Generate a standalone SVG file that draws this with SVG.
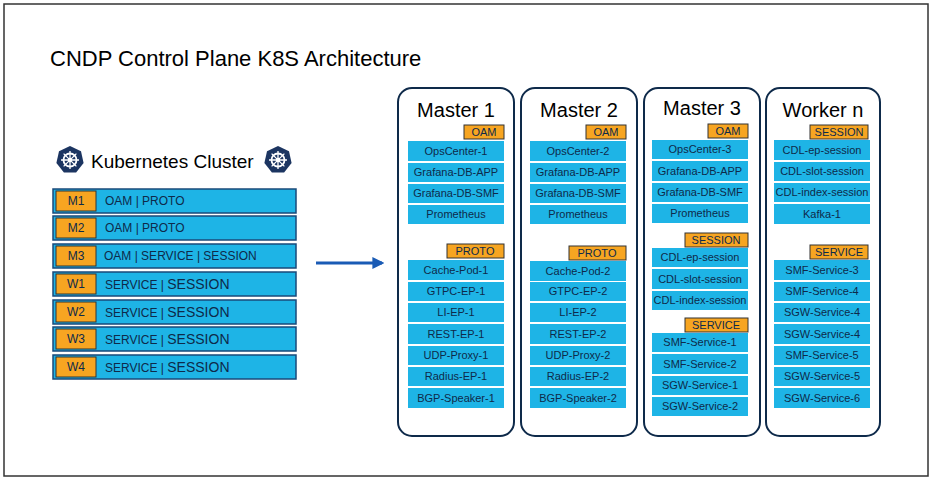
<svg xmlns="http://www.w3.org/2000/svg" width="934" height="480" viewBox="0 0 934 480">
<defs>
<style>
text{font-family:"Liberation Sans",Arial,sans-serif;fill:#0e2a4a}
.col{fill:#fff;stroke:#0e2a4a;stroke-width:2}
.it{fill:#1eb4e6}
.tag{fill:#f7a521;stroke:#333;stroke-width:1}
.t{font-size:11px;text-anchor:middle}
.row{fill:#1eb4e6;stroke:#1a4a7a;stroke-width:1.5}
.h{font-size:20px;text-anchor:middle;fill:#000}
</style>
<marker id="ar" viewBox="0 0 10 10" refX="8" refY="5" markerWidth="4" markerHeight="4" orient="auto"><path d="M0,0L10,5L0,10z" fill="#1a5bb5"/></marker>
<g id="helm"><polygon points="0,-14 11,-8.7 13.6,3.1 6.1,12.6 -6.1,12.6 -13.6,3.1 -11,-8.7" fill="#1c3561"/><circle r="6.5" fill="none" stroke="#fff" stroke-width="1.8"/><circle r="2.2" fill="#fff"/><path d="M0,-9V9M-9,0H9M-6.4,-6.4L6.4,6.4M-6.4,6.4L6.4,-6.4" stroke="#fff" stroke-width="1.3"/></g>
</defs>
<rect width="934" height="480" fill="#fff"/>
<rect x="4" y="4" width="924" height="472" fill="none" stroke="#333" stroke-width="1.5"/>
<text x="50" y="66" style="font-size:22px;fill:#000">CNDP Control Plane K8S Architecture</text>
<g id="cluster">
<use href="#helm" x="70" y="160"/><use href="#helm" x="278" y="160"/>
<text x="91" y="168" style="font-size:19px;fill:#000">Kubernetes Cluster</text>
<rect class="row" x="53" y="189" width="243" height="24"/><rect class="tag" x="56" y="191" width="40" height="20"/><text x="76" y="205" class="t" style="font-size:12px">M1</text><text x="105" y="205" style="font-size:12px">OAM | PROTO</text>
<rect class="row" x="53" y="216" width="243" height="24"/><rect class="tag" x="56" y="218" width="40" height="20"/><text x="76" y="232" class="t" style="font-size:12px">M2</text><text x="105" y="232" style="font-size:12px">OAM | PROTO</text>
<rect class="row" x="53" y="244" width="243" height="24"/><rect class="tag" x="56" y="246" width="40" height="20"/><text x="76" y="260" class="t" style="font-size:12px">M3</text><text x="104" y="260" style="font-size:12px">OAM | SERVICE | SESSION</text>
<rect class="row" x="53" y="272" width="243" height="24"/><rect class="tag" x="56" y="274" width="40" height="20"/><text x="76" y="288" class="t" style="font-size:12px">W1</text><text x="105" y="289" style="font-size:12px">SERVICE | <tspan style="font-size:14px">SESSION</tspan></text>
<rect class="row" x="53" y="300" width="243" height="24"/><rect class="tag" x="56" y="302" width="40" height="20"/><text x="76" y="316" class="t" style="font-size:12px">W2</text><text x="105" y="317" style="font-size:12px">SERVICE | <tspan style="font-size:14px">SESSION</tspan></text>
<rect class="row" x="53" y="327" width="243" height="24"/><rect class="tag" x="56" y="329" width="40" height="20"/><text x="76" y="343" class="t" style="font-size:12px">W3</text><text x="105" y="344" style="font-size:12px">SERVICE | <tspan style="font-size:14px">SESSION</tspan></text>
<rect class="row" x="53" y="355" width="243" height="24"/><rect class="tag" x="56" y="357" width="40" height="20"/><text x="76" y="371" class="t" style="font-size:12px">W4</text><text x="105" y="372" style="font-size:12px">SERVICE | <tspan style="font-size:14px">SESSION</tspan></text>
</g>
<g id="connectors"><line x1="316" y1="263" x2="382" y2="263" stroke="#1a5bb5" stroke-width="3" marker-end="url(#ar)"/></g>
<g id="master1">
<rect class="col" x="398" y="88" width="116" height="348" rx="14"/>
<text x="456" y="117" class="h">Master 1</text>
<rect class="tag" x="464" y="125" width="40" height="14"/><text x="484" y="136" class="t">OAM</text>
<rect class="it" x="408" y="141" width="96" height="20"/><text x="456" y="155" class="t">OpsCenter-1</text>
<rect class="it" x="408" y="163" width="96" height="19"/><text x="456" y="176" class="t">Grafana-DB-APP</text>
<rect class="it" x="408" y="184" width="96" height="19"/><text x="456" y="197" class="t">Grafana-DB-SMF</text>
<rect class="it" x="408" y="205" width="96" height="19"/><text x="456" y="218" class="t">Prometheus</text>
<rect class="tag" x="447" y="244" width="57" height="14"/><text x="475" y="255" class="t">PROTO</text>
<rect class="it" x="408" y="260" width="96" height="20"/><text x="456" y="274" class="t">Cache-Pod-1</text>
<rect class="it" x="408" y="282" width="96" height="19"/><text x="456" y="295" class="t">GTPC-EP-1</text>
<rect class="it" x="408" y="303" width="96" height="19"/><text x="456" y="316" class="t">LI-EP-1</text>
<rect class="it" x="408" y="324" width="96" height="20"/><text x="456" y="338" class="t">REST-EP-1</text>
<rect class="it" x="408" y="346" width="96" height="19"/><text x="456" y="359" class="t">UDP-Proxy-1</text>
<rect class="it" x="408" y="367" width="96" height="19"/><text x="456" y="380" class="t">Radius-EP-1</text>
<rect class="it" x="408" y="388" width="96" height="20"/><text x="456" y="402" class="t">BGP-Speaker-1</text>
</g>
<g id="master2">
<rect class="col" x="521" y="88" width="116" height="348" rx="14"/>
<text x="579" y="117" class="h">Master 2</text>
<rect class="tag" x="586" y="125" width="40" height="14"/><text x="606" y="136" class="t">OAM</text>
<rect class="it" x="530" y="141" width="96" height="20"/><text x="578" y="155" class="t">OpsCenter-2</text>
<rect class="it" x="530" y="163" width="96" height="19"/><text x="578" y="176" class="t">Grafana-DB-APP</text>
<rect class="it" x="530" y="184" width="96" height="19"/><text x="578" y="197" class="t">Grafana-DB-SMF</text>
<rect class="it" x="530" y="205" width="96" height="19"/><text x="578" y="218" class="t">Prometheus</text>
<rect class="tag" x="569" y="246" width="57" height="14"/><text x="597" y="257" class="t">PROTO</text>
<rect class="it" x="530" y="261" width="96" height="20"/><text x="578" y="275" class="t">Cache-Pod-2</text>
<rect class="it" x="530" y="282" width="96" height="19"/><text x="578" y="295" class="t">GTPC-EP-2</text>
<rect class="it" x="530" y="303" width="96" height="19"/><text x="578" y="316" class="t">LI-EP-2</text>
<rect class="it" x="530" y="324" width="96" height="20"/><text x="578" y="338" class="t">REST-EP-2</text>
<rect class="it" x="530" y="346" width="96" height="19"/><text x="578" y="359" class="t">UDP-Proxy-2</text>
<rect class="it" x="530" y="367" width="96" height="19"/><text x="578" y="380" class="t">Radius-EP-2</text>
<rect class="it" x="530" y="388" width="96" height="20"/><text x="578" y="402" class="t">BGP-Speaker-2</text>
</g>
<g id="master3">
<rect class="col" x="644" y="88" width="116" height="348" rx="14"/>
<text x="702" y="115" class="h">Master 3</text>
<rect class="tag" x="708" y="124" width="40" height="14"/><text x="728" y="135" class="t">OAM</text>
<rect class="it" x="652" y="140" width="96" height="19"/><text x="700" y="153" class="t">OpsCenter-3</text>
<rect class="it" x="652" y="161" width="96" height="20"/><text x="700" y="175" class="t">Grafana-DB-APP</text>
<rect class="it" x="652" y="183" width="96" height="19"/><text x="700" y="196" class="t">Grafana-DB-SMF</text>
<rect class="it" x="652" y="204" width="96" height="19"/><text x="700" y="217" class="t">Prometheus</text>
<rect class="tag" x="685" y="233" width="63" height="14"/><text x="716" y="244" class="t">SESSION</text>
<rect class="it" x="652" y="248" width="96" height="19"/><text x="700" y="261" class="t">CDL-ep-session</text>
<rect class="it" x="652" y="269" width="96" height="20"/><text x="700" y="283" class="t">CDL-slot-session</text>
<rect class="it" x="652" y="291" width="96" height="19"/><text x="700" y="304" class="t">CDL-index-session</text>
<rect class="tag" x="685" y="318" width="63" height="14"/><text x="716" y="329" class="t">SERVICE</text>
<rect class="it" x="652" y="333" width="96" height="19"/><text x="700" y="346" class="t">SMF-Service-1</text>
<rect class="it" x="652" y="354" width="96" height="20"/><text x="700" y="368" class="t">SMF-Service-2</text>
<rect class="it" x="652" y="376" width="96" height="19"/><text x="700" y="389" class="t">SGW-Service-1</text>
<rect class="it" x="652" y="397" width="96" height="19"/><text x="700" y="410" class="t">SGW-Service-2</text>
</g>
<g id="worker">
<rect class="col" x="766" y="88" width="114" height="348" rx="14"/>
<text x="823" y="117" class="h">Worker n</text>
<rect class="tag" x="810" y="125" width="58" height="14"/><text x="839" y="136" class="t">SESSION</text>
<rect class="it" x="774" y="140" width="96" height="20"/><text x="822" y="154" class="t">CDL-ep-session</text>
<rect class="it" x="774" y="162" width="96" height="19"/><text x="822" y="175" class="t">CDL-slot-session</text>
<rect class="it" x="774" y="183" width="96" height="19"/><text x="822" y="196" class="t">CDL-index-session</text>
<rect class="it" x="774" y="204" width="96" height="20"/><text x="822" y="218" class="t">Kafka-1</text>
<rect class="tag" x="810" y="245" width="58" height="14"/><text x="839" y="256" class="t">SERVICE</text>
<rect class="it" x="774" y="260" width="96" height="20"/><text x="822" y="274" class="t">SMF-Service-3</text>
<rect class="it" x="774" y="282" width="96" height="19"/><text x="822" y="295" class="t">SMF-Service-4</text>
<rect class="it" x="774" y="303" width="96" height="19"/><text x="822" y="316" class="t">SGW-Service-4</text>
<rect class="it" x="774" y="324" width="96" height="20"/><text x="822" y="338" class="t">SGW-Service-4</text>
<rect class="it" x="774" y="346" width="96" height="19"/><text x="822" y="359" class="t">SMF-Service-5</text>
<rect class="it" x="774" y="367" width="96" height="19"/><text x="822" y="380" class="t">SGW-Service-5</text>
<rect class="it" x="774" y="388" width="96" height="20"/><text x="822" y="402" class="t">SGW-Service-6</text>
</g>
</svg>
